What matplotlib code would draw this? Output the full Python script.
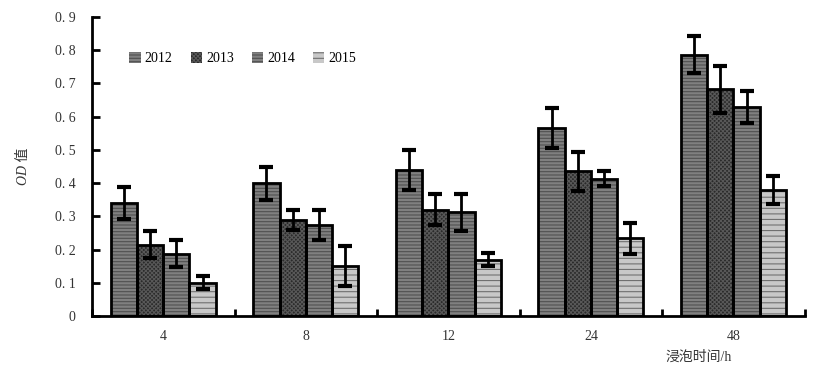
#! python3
# OD values vs soaking time, grouped bars with error bars

import matplotlib
matplotlib.use('Agg')
import matplotlib.pyplot as plt
import numpy as np

plt.rcParams['font.family'] = ['Liberation Serif', 'Noto Sans CJK SC', 'DejaVu Sans']
plt.rcParams['hatch.linewidth'] = 0.8

times = ['4', '8', '12', '24', '48']
years = ['2012', '2013', '2014', '2015']

od_2012 = [0.34, 0.40, 0.44, 0.567, 0.787]
od_2013 = [0.215, 0.29, 0.32, 0.435, 0.682]
od_2014 = [0.188, 0.275, 0.312, 0.413, 0.628]
od_2015 = [0.10, 0.15, 0.17, 0.234, 0.38]

err_2012 = [0.047, 0.05, 0.06, 0.06, 0.055]
err_2013 = [0.04, 0.03, 0.047, 0.06, 0.072]
err_2014 = [0.04, 0.045, 0.055, 0.022, 0.048]
err_2015 = [0.02, 0.06, 0.02, 0.047, 0.042]

yticklabels = ['0', '0. 1', '0. 2', '0. 3', '0. 4', '0. 5', '0. 6', '0. 7', '0. 8', '0. 9']

values = [od_2012, od_2013, od_2014, od_2015]
errors = [err_2012, err_2013, err_2014, err_2015]
faces = ['#808080', '#2a2a2a', '#808080', '#c8c8c8']
hatches = ['-----', 'xxxxxxxx', '-----', '---']
hatch_cols = ['#505050', '#585858', '#505050', '#707070']

fig = plt.figure(figsize=(8.17, 3.78), dpi=100)
ax = fig.add_axes([0.1126, 0.164, 0.8724, 0.791])

x = np.arange(len(times))
w = 0.184
for i in range(4):
    pos = x + (i - 1.5) * w
    ax.bar(pos, values[i], w, color=faces[i], edgecolor=hatch_cols[i],
           hatch=hatches[i], linewidth=0, label=years[i], zorder=2)
    ax.bar(pos, values[i], w, fill=False, edgecolor='black', linewidth=2, zorder=3)
    ax.errorbar(pos, values[i], yerr=errors[i], fmt='none', ecolor='black',
                elinewidth=2, capsize=5, capthick=3, zorder=4)

ax.set_xlim(-0.5, 4.5)
ax.set_ylim(0, 0.9)
ax.set_yticks(np.arange(0, 0.91, 0.1))
ax.set_yticklabels(yticklabels, fontsize=10, color='#333333')
ax.set_xticks(x)
ax.set_xticklabels(times, fontsize=10, color='#333333')
ax.set_xticks(np.arange(-0.5, 4.6, 1), minor=True)
ax.tick_params(axis='x', which='major', length=0, pad=10)
ax.tick_params(axis='x', which='minor', direction='in', length=5, width=2)
ax.tick_params(axis='y', direction='in', length=6, width=2, pad=12)

for s in ['top', 'right']:
    ax.spines[s].set_visible(False)
for s in ['left', 'bottom']:
    ax.spines[s].set_linewidth(2)

ax.set_ylabel('OD 值', fontsize=10, fontstyle='italic', color='#333333', labelpad=18)
fig.text(0.815, 0.045, '浸泡时间/h', fontsize=10, color='#333333')

ax.legend(loc='upper left', bbox_to_anchor=(0.035, 0.925), ncol=4, frameon=False,
          fontsize=10, handlelength=0.8, handleheight=0.8, handletextpad=0.3,
          columnspacing=1.3)

plt.savefig('out.png', dpi=100)
